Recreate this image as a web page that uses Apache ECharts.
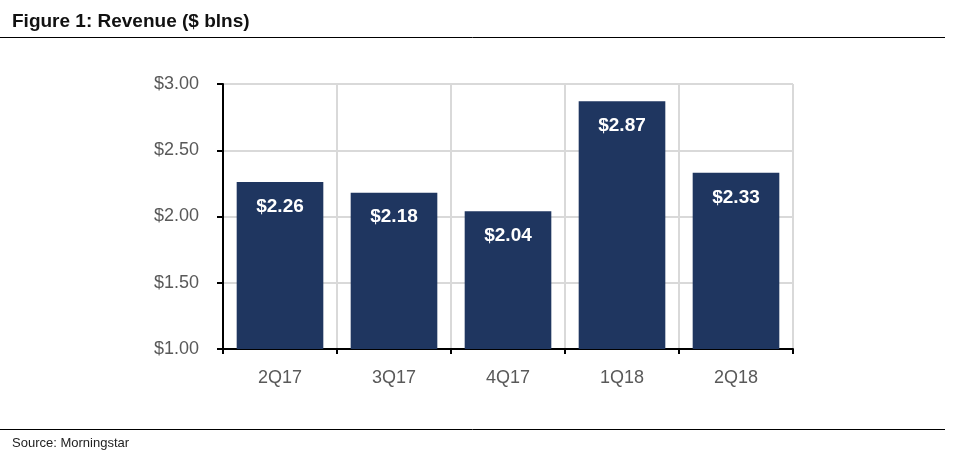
<!DOCTYPE html>
<html>
<head>
<meta charset="utf-8">
<script src="https://cdn.jsdelivr.net/npm/echarts@6/dist/echarts.min.js"></script>
<style>html,body{margin:0;padding:0;background:#fff;}#c{width:960px;height:461px;}</style>
</head>
<body>
<div id="c"></div>
<script>
var categories = ['2Q17', '3Q17', '4Q17', '1Q18', '2Q18'];
var revenue = [2.26, 2.18, 2.04, 2.87, 2.33];
var yTicks = [1.00, 1.50, 2.00, 2.50, 3.00];

var chart = echarts.init(document.getElementById('c'));
var narrow = '"Liberation Sans Narrow", "Arial Narrow", "Liberation Sans", Arial, sans-serif';
chart.setOption({
  animation: false,
  backgroundColor: '#fff',
  title: [{
    text: 'Figure 1: Revenue ($ blns)',
    left: 7, top: 7,
    textStyle: { fontFamily: 'Liberation Sans, Arial, sans-serif', fontWeight: 'bold', fontSize: 19, color: '#111' }
  }, {
    text: 'Source: Morningstar',
    left: 7, top: 432,
    textStyle: { fontFamily: narrow, fontWeight: 'normal', fontSize: 13, color: '#222' }
  }],
  graphic: [
    { type: 'line', shape: { x1: 0, y1: 37.5, x2: 945, y2: 37.5 }, style: { stroke: '#000', lineWidth: 1 } },
    { type: 'line', shape: { x1: 0, y1: 429.5, x2: 945, y2: 429.5 }, style: { stroke: '#000', lineWidth: 1 } }
  ],
  grid: { left: 223, right: 167, top: 84, bottom: 112, containLabel: false },
  xAxis: {
    type: 'category',
    data: categories,
    boundaryGap: true,
    axisLine: { show: true, lineStyle: { color: '#000', width: 2 } },
    axisTick: { show: true, inside: false, length: 5, lineStyle: { color: '#000', width: 2 } },
    axisLabel: { color: '#595959', fontSize: 18, margin: 20, fontFamily: 'Liberation Sans, Arial, sans-serif' },
    splitLine: { show: true, lineStyle: { color: '#d9d9d9', width: 2 } }
  },
  yAxis: {
    type: 'value',
    min: 1, max: 3, interval: 0.5,
    axisLine: { show: true, lineStyle: { color: '#000', width: 2 } },
    axisTick: { show: true, inside: false, length: 6, lineStyle: { color: '#000', width: 2 } },
    axisLabel: {
      color: '#595959', fontSize: 18, margin: 24, fontFamily: 'Liberation Sans, Arial, sans-serif',
      formatter: function (v) { return '$' + v.toFixed(2); }
    },
    splitLine: { show: true, lineStyle: { color: '#d9d9d9', width: 2 } }
  },
  series: [{
    type: 'bar',
    data: revenue,
    barWidth: '76%',
    itemStyle: { color: '#1f3660' },
    label: {
      show: true, position: 'insideTop', distance: 15,
      color: '#fff', fontWeight: 'bold', fontSize: 19, fontFamily: narrow,
      formatter: function (p) { return '$' + p.value.toFixed(2); }
    }
  }]
});
</script>
</body>
</html>
